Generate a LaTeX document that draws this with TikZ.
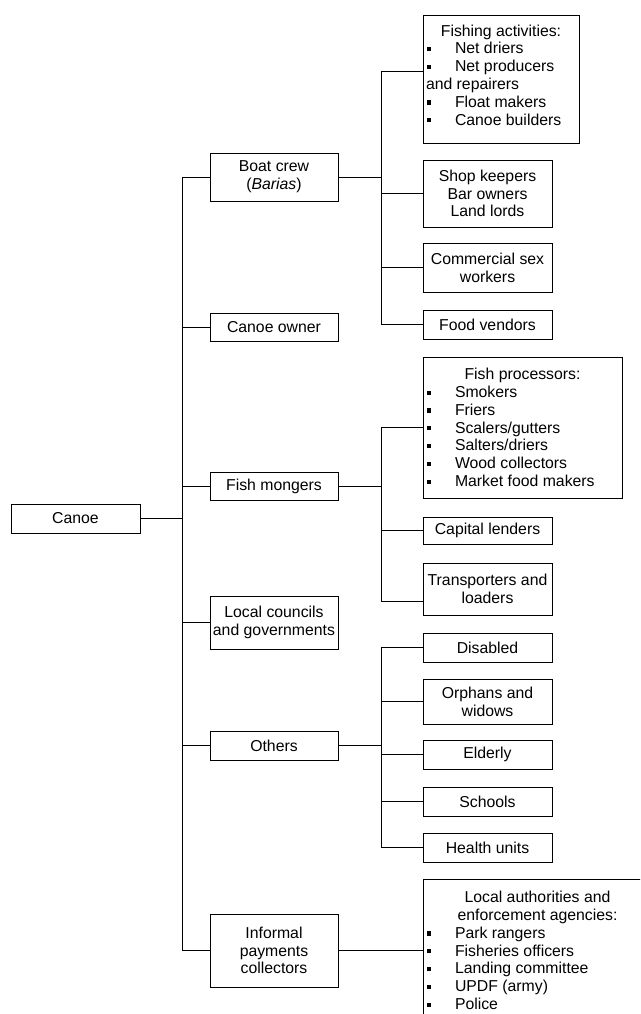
\documentclass[tikz,border=0pt]{standalone}
\usepackage{fontspec}
\setmainfont{Liberation Sans}
\newcommand{\fsz}{\fontsize{15.8pt}{17.8pt}\selectfont}
\newcommand{\itm}[1]{\makebox[29pt][l]{\hspace{1pt}\rule[2.7pt]{4pt}{4.2pt}}#1}
\newcommand{\hdl}[1]{\makebox[\linewidth][c]{#1}}
\begin{document}
\begin{tikzpicture}[x=1pt,y=-1pt,
  bx/.style={draw, line width=0.9pt, inner sep=0pt, font=\fsz, align=center},
  bxl/.style={draw, line width=0.9pt, inner sep=0pt, font=\fsz},
  ln/.style={line width=0.9pt}]
\useasboundingbox (0,0) rectangle (640,1014);
\clip (0,0) rectangle (640,1014);
% level 0
\node[bx, minimum width=129pt, minimum height=29pt] (canoe) at (75.5,518.5) {Canoe};
% level 1
\node[bx, minimum width=128pt, minimum height=48pt] (boat) at (274,177) {Boat crew\\(\textit{Barias})};
\node[bx, minimum width=128pt, minimum height=28pt] (owner) at (274,327) {Canoe owner};
\node[bx, minimum width=128pt, minimum height=28pt] (mong) at (274,486) {Fish mongers};
\node[bx, minimum width=128pt, minimum height=53pt] (local) at (274,622.5) {Local councils\\and governments};
\node[bx, minimum width=128pt, minimum height=29pt] (oth) at (274,745.5) {Others};
\node[bx, minimum width=128pt, minimum height=73pt] (inf) at (274,950.5) {Informal\\payments\\collectors};
% level 2: boat crew
\node[bxl, minimum width=156pt, minimum height=128pt] (fishact) at (501,79)
  {\raisebox{0pt}[\height][\dimexpr\depth+8pt\relax]{\parbox{150pt}{\hdl{Fishing activities:}\\
  \itm{Net driers}\\ \itm{Net producers}\\ and repairers\\ \itm{Float makers}\\ \itm{Canoe builders}}}};
\node[bx, minimum width=129pt, minimum height=67pt] (shop) at (487.5,193.5) {Shop keepers\\Bar owners\\Land lords};
\node[bx, minimum width=129pt, minimum height=49pt] (comm) at (487.5,267.5) {Commercial sex\\workers};
\node[bx, minimum width=129pt, minimum height=29pt] (food) at (487.5,324.5) {Food vendors};
% level 2: fish mongers
\node[bxl, minimum width=199pt, minimum height=141pt] (proc) at (522.5,427.5)
  {\parbox{193pt}{\hdl{Fish processors:}\\
  \itm{Smokers}\\ \itm{Friers}\\ \itm{Scalers/gutters}\\ \itm{Salters/driers}\\ \itm{Wood collectors}\\ \itm{Market food makers}}};
\node[bx, minimum width=129pt, minimum height=27pt] (cap) at (487.5,530.5) {Capital lenders};
\node[bx, minimum width=129pt, minimum height=52pt] (trans) at (487.5,589) {Transporters and\\loaders};
% level 2: others
\node[bx, minimum width=129pt, minimum height=29pt] (dis) at (487.5,647.5) {Disabled};
\node[bx, minimum width=129pt, minimum height=45pt] (orph) at (487.5,701.5) {Orphans and\\widows};
\node[bx, minimum width=129pt, minimum height=29pt] (eld) at (487.5,754.5) {Elderly};
\node[bx, minimum width=129pt, minimum height=29pt] (sch) at (487.5,801.5) {Schools};
\node[bx, minimum width=129pt, minimum height=29pt] (health) at (487.5,847.5) {Health units};
% level 2: informal
\node[bxl, minimum width=229pt, minimum height=143pt] (auth) at (537.5,950.5)
  {\parbox{223pt}{\hdl{Local authorities and}\\ \hdl{enforcement agencies:}\\
  \itm{Park rangers}\\ \itm{Fisheries officers}\\ \itm{Landing committee}\\ \itm{UPDF (army)}\\ \itm{Police}}};
% trunks
\coordinate (t0) at (182,518.5);
\coordinate (s1) at (381,0);
\draw[ln] (canoe.east) -- (canoe.east -| t0);
\draw[ln] (boat.west) -| (inf.west -| t0) -- (inf.west);
\foreach \n in {owner,mong,local,oth} \draw[ln] (\n.west) -- (\n.west -| t0);
% boat crew branch
\draw[ln] (boat.east) -- (boat.east -| s1);
\draw[ln] ([yshift=8pt]fishact.west) -| (food.west -| s1) -- (food.west);
\foreach \n in {shop,comm} \draw[ln] (\n.west) -- (\n.west -| s1);
% fish mongers branch
\draw[ln] (mong.east) -- (mong.east -| s1);
\draw[ln] (proc.west) -| ([yshift=-12pt]trans.west -| s1) -- ([yshift=-12pt]trans.west);
\draw[ln] (cap.west) -- (cap.west -| s1);
% others branch
\draw[ln] (oth.east) -- (oth.east -| s1);
\draw[ln] (dis.west) -| (health.west -| s1) -- (health.west);
\foreach \n in {orph,eld,sch} \draw[ln] (\n.west) -- (\n.west -| s1);
% informal
\draw[ln] (inf.east) -- (auth.west);
\end{tikzpicture}
\end{document}
